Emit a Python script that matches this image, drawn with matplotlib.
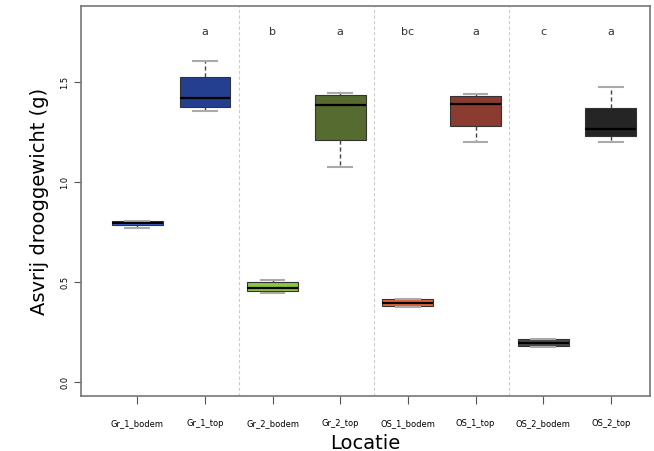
import matplotlib
matplotlib.use("Agg")
import matplotlib.pyplot as plt

categories = ["Gr_1_bodem", "Gr_1_top", "Gr_2_bodem", "Gr_2_top",
              "OS_1_bodem", "OS_1_top", "OS_2_bodem", "OS_2_top"]
whislo = [0.770, 1.355, 0.445, 1.075, 0.375, 1.200, 0.175, 1.200]
q1     = [0.783, 1.375, 0.453, 1.210, 0.378, 1.280, 0.180, 1.230]
med    = [0.795, 1.420, 0.470, 1.385, 0.395, 1.390, 0.195, 1.265]
q3     = [0.805, 1.525, 0.497, 1.435, 0.412, 1.430, 0.212, 1.370]
whishi = [0.805, 1.605, 0.510, 1.445, 0.415, 1.440, 0.212, 1.475]
letters = ["", "a", "b", "a", "bc", "a", "c", "a"]
colors = ["#3e63d0", "#243f8f", "#8dc641", "#566b2f", "#e8643c", "#8b3b2f", "#4a4a4a", "#252525"]

fig = plt.figure(figsize=(6.54, 4.52), dpi=100)
ax = fig.add_axes([0.124, 0.122, 0.870, 0.863])
stats = [dict(whislo=a, q1=b, med=c, q3=d, whishi=e, fliers=[])
         for a, b, c, d, e in zip(whislo, q1, med, q3, whishi)]
pos = list(range(1, len(categories) + 1))
bp = ax.bxp(stats, positions=pos, widths=0.75, patch_artist=True,
            boxprops=dict(edgecolor="#333333", linewidth=0.8),
            medianprops=dict(color="black", linewidth=1.6),
            whiskerprops=dict(color="#444444", linestyle=(0, (3, 2)), linewidth=1),
            capprops=dict(color="#aaaaaa", linewidth=1.5), capwidths=0.35)
for p, c in zip(bp["boxes"], colors):
    p.set_facecolor(c)
for x in (2.5, 4.5, 6.5):
    ax.axvline(x, color="#cccccc", linestyle=(0, (3, 2)), linewidth=0.8)
for x, t in zip(pos, letters):
    ax.text(x, 1.755, t, ha="center", va="center", fontsize=8, color="#333333")
ax.set_xlim(0.17, 8.58)
ax.set_ylim(-0.07, 1.88)
ax.set_xticks(pos)
ax.set_xticklabels(categories, fontsize=6)
ax.set_yticks([0.0, 0.5, 1.0, 1.5])
ax.set_yticklabels(["0.0", "0.5", "1.0", "1.5"], fontsize=6, rotation=90, va="center")
ax.tick_params(axis="x", length=6, pad=10, color="#555555")
ax.tick_params(axis="y", length=5, color="#555555")
for s in ax.spines.values():
    s.set_color("#777777")
    s.set_linewidth(1.2)
ax.set_xlabel("Locatie", fontsize=14)
ax.set_ylabel("Asvrij drooggewicht (g)", fontsize=14, labelpad=8)
fig.savefig("out.png", dpi=100)
